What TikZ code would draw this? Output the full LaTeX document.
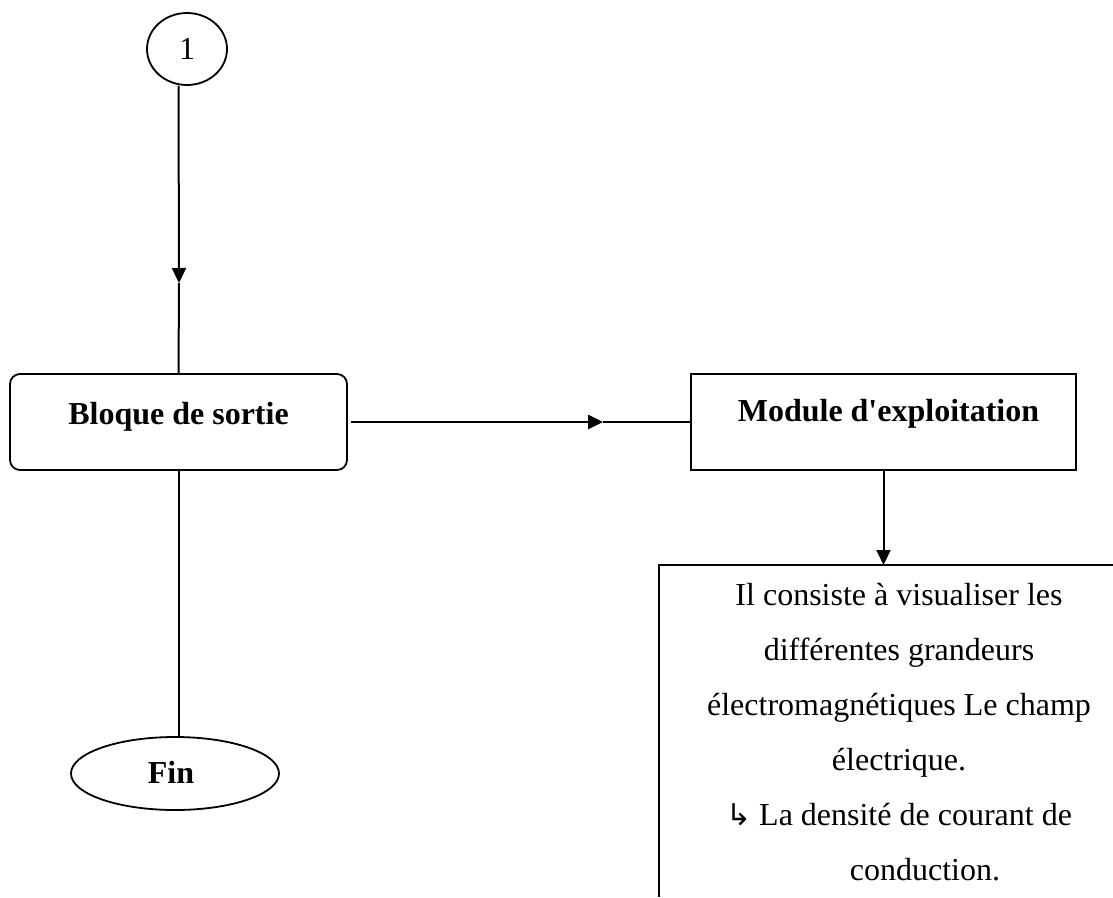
\documentclass[tikz,border=0pt]{standalone}
\usepackage{fontspec}
\setmainfont{Liberation Serif}
\newfontfamily\symfont{DejaVu Sans}
\usetikzlibrary{arrows.meta,shapes.geometric}
\tikzset{
  x=1pt, y=-1pt,
  conn/.style={line width=2pt, black},
  tip/.style={-{Triangle[length=15pt,width=14pt]}},
  boxbase/.style={draw, line width=1.8pt, inner sep=0pt, font=\fontsize{32}{38}\selectfont\bfseries},
  roundbox/.style={boxbase, rounded corners=10pt, minimum width=337pt, minimum height=96pt},
  sqbox/.style={boxbase, minimum width=385pt, minimum height=96pt},
  oval/.style={boxbase, ellipse, minimum width=208pt, minimum height=73pt},
  conn1/.style={draw, ellipse, line width=1.8pt, inner sep=0pt, minimum width=80pt, minimum height=72pt, font=\fontsize{32}{38}\selectfont},
  bodytext/.style={align=center, inner sep=0pt, font=\fontsize{32}{55}\selectfont}
}
\begin{document}
\begin{tikzpicture}
\useasboundingbox (0,0) rectangle (1113,897);
% nodes
\node[conn1] (one) at (187,49) {1};
\node[roundbox, text height=22pt, text depth=18pt] (bloque) at (178.5,422) {Bloque de sortie};
\node[sqbox, text height=22pt, text depth=24pt] (module) at (883.5,422) {\hspace*{10pt}Module d\textquotesingle exploitation};
\node[oval, text height=22pt, text depth=2pt] (fin) at (175,773.5) {\hspace*{-8pt}Fin};
% open text frame (clipped at right and bottom)
\coordinate (tr) at (1113,565);
\coordinate (tl) at (659,565);
\coordinate (bl) at (659,897);
\draw[line width=1.8pt] (tr) -- (tl) -- (bl);
\node[bodytext, anchor=north] (desc) at (899,583) {Il consiste à visualiser les\\
différentes grandeurs\\
électromagnétiques Le champ\\
électrique.\\
{\symfont\fontsize{30}{30}\selectfont ↳} La densité de courant de\\
\hspace*{52pt}conduction.};
% connectors
\coordinate (a1) at (179,283);
\draw[conn, tip] (bloque.north |- one.south) -- (a1);
\draw[conn] (a1) -- (bloque.north);
\coordinate (f1) at (178.5,737.5);
\draw[conn] (bloque.south) -- (f1);
\coordinate (a2) at (603,422);
\draw[line width=2.6pt, tip] ([xshift=3pt]bloque.east) -- (a2);
\draw[line width=1.5pt] (a2) -- (module.west);
\coordinate (a3) at (883.5,565);
\draw[conn, tip] (module.south) -- (a3);
\end{tikzpicture}
\end{document}
